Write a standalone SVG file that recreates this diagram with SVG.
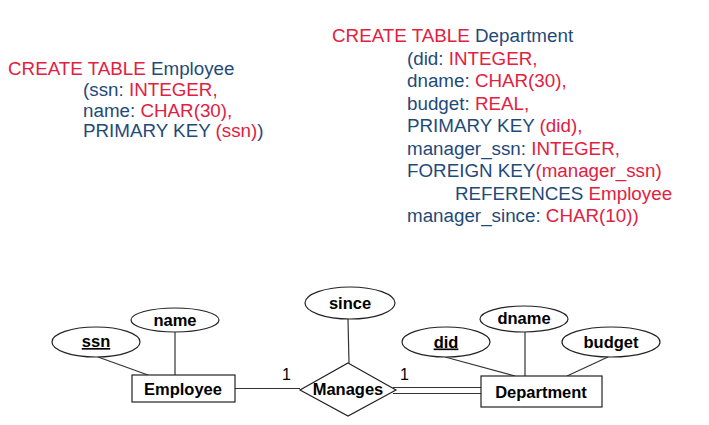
<svg xmlns="http://www.w3.org/2000/svg" width="709" height="425" viewBox="0 0 709 425">
<style>
.sql{font-family:"Liberation Sans",Arial,sans-serif;font-size:18.8px;fill:#1f4a78}
.r{fill:#e2203f}
.lbl{font-family:"Liberation Sans",Arial,sans-serif;font-size:16.5px;font-weight:bold;fill:#000;text-anchor:middle}
.card{font-family:"Liberation Sans",Arial,sans-serif;font-size:16px;fill:#000}
.shape{fill:#fff;stroke:#222;stroke-width:1.2}
.ln{stroke:#333;stroke-width:1.2;fill:none}
</style>
<rect width="709" height="425" fill="#fff"/>
<g id="sql-employee">
<text class="sql" x="8" y="75"><tspan class="r">CREATE TABLE</tspan> Employee</text>
<text class="sql" x="83" y="96">(ssn: <tspan class="r">INTEGER,</tspan></text>
<text class="sql" x="83" y="116.5">name: <tspan class="r">CHAR(30),</tspan></text>
<text class="sql" x="83" y="137">PRIMARY KEY <tspan class="r">(ssn)</tspan>)</text>
</g>
<g id="sql-department">
<text class="sql" x="332" y="42"><tspan class="r">CREATE TABLE</tspan> Department</text>
<text class="sql" x="407" y="64.5">(did: <tspan class="r">INTEGER,</tspan></text>
<text class="sql" x="407" y="87">dname: <tspan class="r">CHAR(30),</tspan></text>
<text class="sql" x="407" y="109.5">budget: <tspan class="r">REAL,</tspan></text>
<text class="sql" x="407" y="132">PRIMARY KEY <tspan class="r">(did),</tspan></text>
<text class="sql" x="407" y="154.5">manager_ssn: <tspan class="r">INTEGER,</tspan></text>
<text class="sql" x="407" y="177">FOREIGN KEY<tspan class="r">(manager_ssn)</tspan></text>
<text class="sql" x="455" y="199.5">REFERENCES <tspan class="r">Employee</tspan></text>
<text class="sql" x="407" y="222">manager_since: <tspan class="r">CHAR(10))</tspan></text>
</g>
<g id="connectors">
<line class="ln" x1="98" y1="357" x2="148" y2="375"/>
<line class="ln" x1="175" y1="332" x2="175" y2="375"/>
<line class="ln" x1="235" y1="388.5" x2="300" y2="388.5"/>
<line class="ln" x1="348" y1="319" x2="349" y2="363"/>
<line class="ln" x1="393" y1="387.5" x2="481" y2="387.5"/>
<line class="ln" x1="393" y1="393.5" x2="481" y2="393.5"/>
<line class="ln" x1="445" y1="357" x2="515" y2="376"/>
<line class="ln" x1="525" y1="332" x2="525" y2="376"/>
<line class="ln" x1="608" y1="357" x2="567" y2="376"/>
<text class="card" x="282" y="380">1</text>
<text class="card" x="400" y="380">1</text>
</g>
<g id="ssn"><ellipse class="shape" cx="96" cy="342" rx="44" ry="15"/><text class="lbl" x="96" y="347" text-decoration="underline">ssn</text></g>
<g id="name"><ellipse class="shape" cx="175" cy="320" rx="44" ry="12"/><text class="lbl" x="175" y="325.5">name</text></g>
<g id="employee"><rect class="shape" x="132" y="375" width="103" height="27"/><text class="lbl" x="183" y="395">Employee</text></g>
<g id="since"><ellipse class="shape" cx="350" cy="303" rx="45" ry="16"/><text class="lbl" x="350" y="308.5">since</text></g>
<g id="manages"><polygon class="shape" points="348,363 396,390 348,416 300,390"/><text class="lbl" x="348" y="394.5">Manages</text></g>
<g id="did"><ellipse class="shape" cx="446" cy="342" rx="44" ry="15"/><text class="lbl" x="446" y="347.5" text-decoration="underline">did</text></g>
<g id="dname"><ellipse class="shape" cx="524" cy="319" rx="44" ry="13"/><text class="lbl" x="524" y="324">dname</text></g>
<g id="budget"><ellipse class="shape" cx="611" cy="342" rx="49" ry="15"/><text class="lbl" x="611" y="347.5">budget</text></g>
<g id="department"><rect class="shape" x="481" y="376" width="121" height="31"/><text class="lbl" x="541" y="398">Department</text></g>
</svg>
